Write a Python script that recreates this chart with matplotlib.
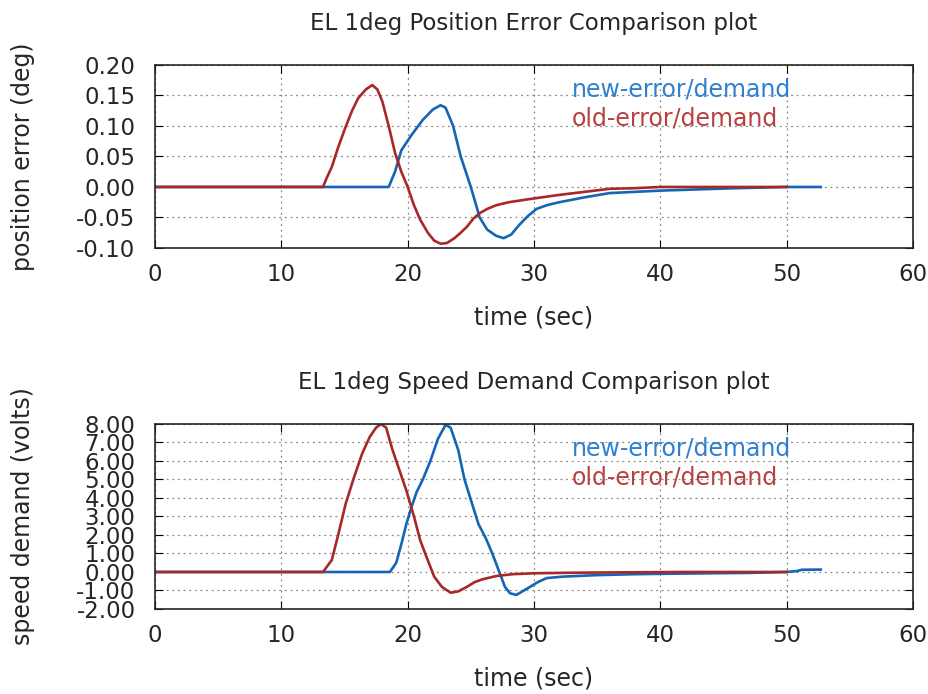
import matplotlib
matplotlib.use("Agg")
import matplotlib.pyplot as plt
from matplotlib.ticker import FormatStrFormatter

# series names and colours
labels = ["new-error/demand", "old-error/demand"]
colors = ["#1565b5", "#a8282a"]
text_colors = ["#2f80d0", "#b84040"]

# position error (deg)
t_pos_new = [0, 18.5, 19.0, 19.5, 20.3, 21.2, 22.0, 22.6, 23.0, 23.6, 24.2, 25.0, 25.7, 26.3,
             27.0, 27.6, 28.2, 28.8, 29.5, 30.2, 31.0, 32.0, 34.0, 36.0, 38.0, 40.0, 43.0,
             46.0, 50.0, 52.7]
pos_new = [0, 0, 0.025, 0.06, 0.085, 0.11, 0.127, 0.134, 0.130, 0.10, 0.05, 0.0, -0.05, -0.07,
           -0.08, -0.084, -0.078, -0.063, -0.048, -0.036, -0.03, -0.025, -0.017, -0.010,
           -0.008, -0.006, -0.004, -0.002, 0.0, 0.0]

t_pos_old = [0, 13.3, 13.6, 14.0, 14.5, 15.1, 15.6, 16.1, 16.7, 17.2, 17.6, 18.0, 18.5, 19.0,
             19.5, 20.0, 20.5, 21.0, 21.6, 22.1, 22.6, 23.1, 23.7, 24.2, 24.7, 25.2, 25.7,
             26.3, 27.0, 28.0, 29.6, 32.0, 34.0, 36.0, 38.0, 40.0, 45.0, 50.0]
pos_old = [0, 0, 0.015, 0.033, 0.065, 0.099, 0.125, 0.146, 0.160, 0.167, 0.160, 0.140, 0.100,
           0.056, 0.025, 0.0, -0.03, -0.054, -0.075, -0.088, -0.093, -0.092, -0.084, -0.075,
           -0.065, -0.052, -0.043, -0.036, -0.030, -0.025, -0.020, -0.013, -0.008, -0.003,
           -0.002, 0.0, 0.0, 0.0]

# speed demand (volts)
t_spd_new = [0, 18.6, 19.1, 19.5, 19.9, 20.3, 20.7, 21.2, 21.8, 22.4, 23.0, 23.4, 24.0, 24.5,
             25.0, 25.6, 26.2, 26.7, 27.2, 27.7, 28.1, 28.6, 29.2, 29.7, 30.3, 31.0, 32.3,
             35.0, 38.0, 40.0, 44.0, 47.0, 50.0, 50.8, 51.2, 52.7]
spd_new = [0, 0, 0.5, 1.5, 2.6, 3.5, 4.3, 5.0, 6.0, 7.2, 7.95, 7.8, 6.6, 5.0, 3.9, 2.6, 1.8,
           1.0, 0.1, -0.8, -1.15, -1.24, -1.0, -0.8, -0.55, -0.33, -0.25, -0.17, -0.12,
           -0.10, -0.07, -0.05, 0.0, 0.05, 0.12, 0.13]

t_spd_old = [0, 13.3, 14.0, 14.5, 15.1, 15.7, 16.4, 17.0, 17.5, 17.9, 18.3, 18.8, 19.3, 19.9,
             20.5, 21.0, 21.5, 22.1, 22.7, 23.4, 24.0, 24.7, 25.3, 25.9, 27.0, 28.3, 30.0,
             33.0, 37.0, 42.0, 50.0]
spd_old = [0, 0, 0.65, 2.0, 3.7, 5.0, 6.4, 7.3, 7.8, 8.0, 7.8, 6.6, 5.6, 4.4, 3.0, 1.7, 0.8,
           -0.25, -0.8, -1.12, -1.05, -0.8, -0.55, -0.4, -0.22, -0.12, -0.07, -0.04, -0.02,
           0.0, 0.0]

x_ticks = [0, 10, 20, 30, 40, 50, 60]
pos_ticks = [-0.10, -0.05, 0.00, 0.05, 0.10, 0.15, 0.20]
spd_ticks = [-2, -1, 0, 1, 2, 3, 4, 5, 6, 7, 8]

fig = plt.figure(figsize=(9.29, 6.94), dpi=100)
ax1 = fig.add_axes([0.1668, 0.6427, 0.816, 0.2637])
ax2 = fig.add_axes([0.1668, 0.1225, 0.816, 0.2666])

panels = [
    (ax1, [(t_pos_new, pos_new), (t_pos_old, pos_old)], pos_ticks,
     "EL 1deg Position Error Comparison plot", "position error (deg)"),
    (ax2, [(t_spd_new, spd_new), (t_spd_old, spd_old)], spd_ticks,
     "EL 1deg Speed Demand Comparison plot", "speed demand (volts)"),
]

for ax, series, yticks, title, ylabel in panels:
    for (t, v), lab, col in zip(series, labels, colors):
        ax.plot(t, v, color=col, lw=1.9, label=lab)
    ax.set_xlim(0, 60)
    ax.set_ylim(yticks[0], yticks[-1])
    ax.set_xticks(x_ticks)
    ax.set_yticks(yticks)
    # the speed panel's tick labels crowd together, as in the original
    ax.yaxis.set_major_formatter(FormatStrFormatter("%.2f"))
    ax.grid(True, linestyle=(0, (1.5, 3)), color="#888888", lw=0.9)
    ax.tick_params(direction="in", top=True, right=True, labelsize=16.5,
                   labelcolor="#262626", length=6)
    ax.tick_params(axis="x", pad=11)
    ax.tick_params(axis="y", pad=14)
    for s in ax.spines.values():
        s.set_linewidth(1.2)
        s.set_color("#262626")
    ax.set_title(title, fontsize=16.5, color="#262626", pad=25)
    ax.set_xlabel("time (sec)", fontsize=17, color="#262626", labelpad=14)
    ax.set_ylabel(ylabel, fontsize=17, color="#262626")
    ax.yaxis.set_label_coords(-0.158, 0.5)
    for i, (lab, col) in enumerate(zip(labels, text_colors)):
        ax.text(0.55, 0.865 - i * 0.155, lab, transform=ax.transAxes, color=col,
                fontsize=17, va="center", ha="left")

fig.savefig("out.png", dpi=100)
